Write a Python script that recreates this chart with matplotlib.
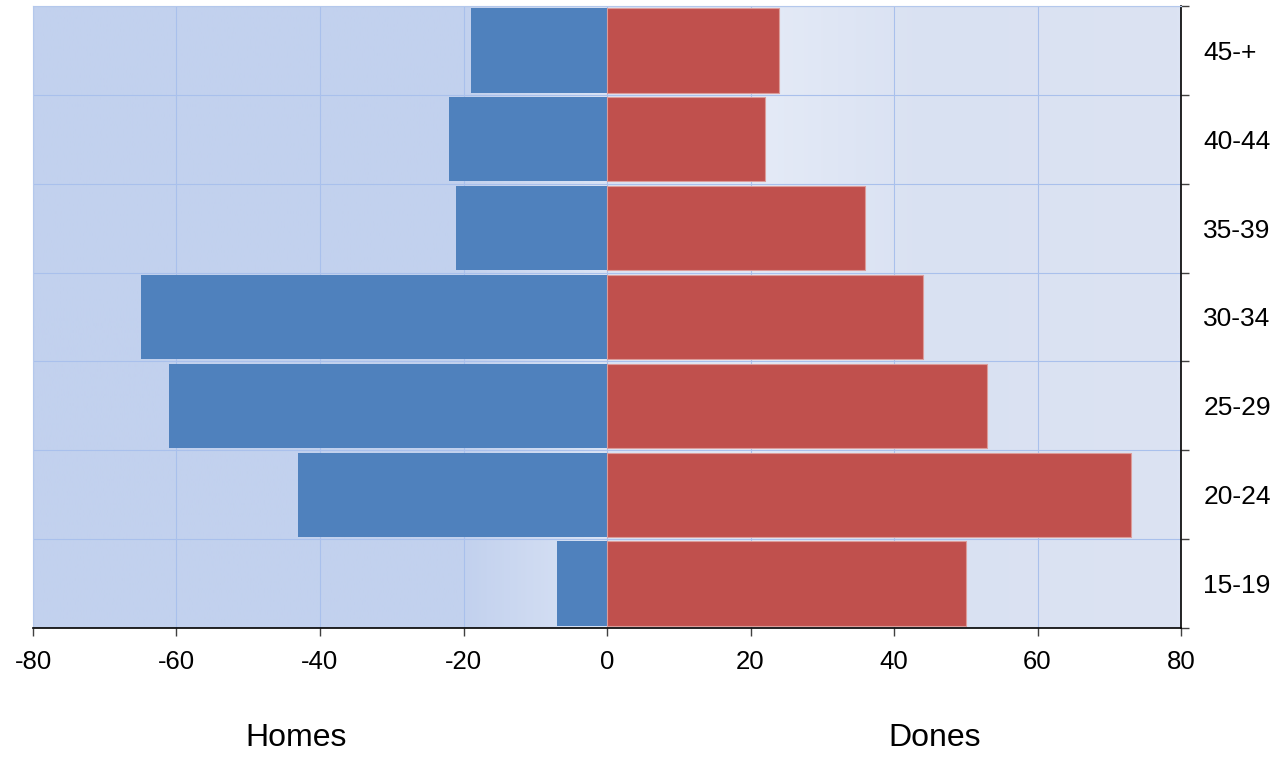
import numpy as np
import matplotlib.pyplot as plt
from matplotlib.colors import LinearSegmentedColormap
from matplotlib.ticker import FixedLocator

plt.rcParams['font.family'] = ['Liberation Sans', 'DejaVu Sans']

# age groups, bottom to top
ages = ['15-19', '20-24', '25-29', '30-34', '35-39', '40-44', '45-+']
homes = [7, 43, 61, 65, 21, 22, 19]
dones = [50, 73, 53, 44, 36, 22, 24]

fig = plt.figure(figsize=(12.79, 7.57), dpi=100)
ax = fig.add_axes([33 / 1279, 129 / 757, 1148 / 1279, 622 / 757])

y = np.arange(len(ages))

# background gradient across the plot area
bg = LinearSegmentedColormap.from_list('bg', [
    (0.0, '#c2d1ee'), (0.375, '#c2d1ee'), (0.5, '#dbe4f5'),
    (0.625, '#e5ebf7'), (0.78, '#d9e1f2'), (1.0, '#dce3f3')])
ax.imshow(np.linspace(0, 1, 400).reshape(1, -1), cmap=bg, aspect='auto',
          extent=[-80, 80, -0.5, len(ages) - 0.5], zorder=0, interpolation='bilinear')

ax.barh(y, [-v for v in homes], height=0.95, color='#4f81bd', zorder=2)
ax.barh(y, dones, height=0.95, color='#c0504d', edgecolor='#dc9c9a', linewidth=0.8, zorder=2)

ax.set_xlim(-80, 80)
ax.set_ylim(-0.5, len(ages) - 0.5)
ax.set_xticks(range(-80, 81, 20))
ax.set_xticklabels([str(v) for v in range(-80, 81, 20)], fontsize=18.5)

ax.yaxis.tick_right()
ax.set_yticks(y)
ax.set_yticklabels(ages, fontsize=19)
ax.yaxis.set_minor_locator(FixedLocator(np.arange(-0.5, len(ages), 1)))
ax.tick_params(axis='y', which='major', length=0, pad=16)
ax.tick_params(axis='y', which='minor', length=6, width=1, color='#404040', direction='out')
ax.tick_params(axis='x', which='major', length=6, width=1, color='#404040', direction='out', pad=10)

ax.set_axisbelow(True)
ax.grid(axis='x', which='major', color='#a9c0ec', linewidth=0.8, zorder=1)
ax.grid(axis='y', which='minor', color='#a9c0ec', linewidth=0.8, zorder=1)
ax.grid(axis='y', which='major', visible=False)

for s in ['top', 'left']:
    ax.spines[s].set_color('#b4c8ec')
ax.spines['right'].set_color('black')
ax.spines['bottom'].set_color('black')
ax.spines['right'].set_linewidth(1.2)
ax.spines['bottom'].set_linewidth(1.2)

fig.text(296 / 1279, 1 - 738 / 757, 'Homes', fontsize=23, ha='center', va='center')
fig.text(935 / 1279, 1 - 738 / 757, 'Dones', fontsize=23, ha='center', va='center')

fig.savefig('out.png', dpi=100)
